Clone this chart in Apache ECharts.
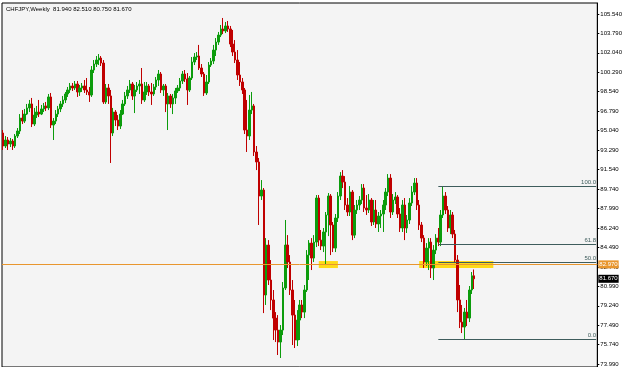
<!DOCTYPE html>
<html><head><meta charset="utf-8">
<script src="https://cdn.jsdelivr.net/npm/echarts@6/dist/echarts.min.js"></script>
<style>html,body{margin:0;padding:0;background:#ffffff}#c{width:625px;height:367px}</style>
</head><body><div id="c"></div>
<script>
// ---- data ----
const chartTitle = 'CHFJPY,Weekly  81.940 82.510 80.750 81.670';
// weekly candles: [open, close, low, high]
const candles = [
[94.81,93.64,93.28,95.08],[93.64,94.18,93.46,94.54],[94.18,93.82,93.28,94.45],[93.82,94.09,93.55,94.36],
[94.09,93.64,93.28,94.27],[93.64,94.54,93.46,94.72],[94.54,94.99,94.36,95.26],[94.99,96.16,94.72,96.52],
[96.16,95.89,95.62,96.88],[95.89,96.52,95.71,96.98],[96.52,97.07,96.43,97.43],[97.07,97.43,96.70,97.79],
[97.43,95.62,95.35,97.97],[95.62,96.43,95.44,97.07],[96.43,96.70,96.16,97.25],[96.70,96.52,96.25,97.79],
[96.52,96.98,96.43,97.34],[96.98,97.25,96.70,97.52],[97.25,97.07,96.79,97.61],[97.07,98.06,96.88,98.33],
[98.06,95.53,95.26,98.42],[95.53,95.89,94.18,96.16],[95.89,96.52,95.62,96.88],[96.52,96.98,96.25,97.25],
[96.98,97.43,96.70,97.70],[97.43,97.79,97.16,98.15],[97.79,98.33,97.52,98.51],[98.33,98.69,98.06,98.96],
[98.69,99.05,98.42,99.32],[99.05,98.87,98.60,99.32],[98.87,99.23,98.69,99.50],[99.23,98.51,98.06,99.50],
[98.51,98.87,98.15,99.14],[98.87,99.05,98.51,99.32],[99.05,98.69,98.42,99.59],[98.69,98.51,98.24,99.77],
[98.51,98.24,97.61,98.96],[98.24,100.49,98.06,100.85],[100.49,101.03,100.22,101.39],[101.03,101.39,100.76,101.75],
[101.39,101.57,100.94,101.93],[101.57,101.12,100.85,101.75],[101.12,97.61,97.43,101.39],[97.61,98.87,97.43,99.23],
[98.87,98.15,97.43,99.23],[98.15,94.81,92.11,98.69],[94.81,96.70,94.54,97.07],[96.70,95.98,95.44,96.88],
[95.98,95.44,95.08,96.43],[95.44,96.52,95.17,96.88],[96.52,97.43,96.43,97.79],[97.43,98.15,97.25,98.51],
[98.15,98.69,97.88,99.05],[98.69,99.23,98.42,99.59],[99.23,98.15,97.79,99.41],[98.15,98.69,96.61,99.14],
[98.69,99.05,98.51,99.41],[99.05,99.23,98.33,99.59],[99.23,97.79,97.43,100.67],[97.79,98.51,97.61,99.41],
[98.51,99.05,98.24,99.41],[99.05,98.51,98.15,99.23],[98.51,98.33,97.34,99.32],[98.33,98.96,98.15,99.23],
[98.96,99.59,98.69,99.86],[99.59,100.13,99.05,100.49],[100.13,98.69,98.42,100.31],[98.69,99.05,98.15,99.23],
[99.05,97.43,96.70,99.23],[97.43,98.15,95.08,98.42],[98.15,97.43,97.07,98.33],[97.43,97.97,96.52,98.33],
[97.97,98.60,97.43,98.87],[98.60,98.87,98.42,99.14],[98.87,99.50,98.60,99.77],[99.50,100.13,99.23,100.40],
[100.13,99.68,99.41,100.49],[99.68,98.69,97.34,100.22],[98.69,99.77,98.51,99.95],[99.77,101.21,99.59,101.66],
[101.21,101.66,100.94,102.02],[101.66,101.75,101.39,102.11],[101.75,100.67,100.49,102.75],[100.67,100.13,99.86,101.03],
[100.13,98.42,98.15,100.31],[98.42,99.41,98.24,100.04],[99.41,100.94,99.23,101.21],[100.94,101.30,100.76,101.57],
[101.30,102.29,101.03,102.75],[102.29,103.01,101.75,103.37],[103.01,103.64,102.75,103.92],[103.64,104.19,103.46,104.55],
[104.19,104.01,103.73,105.18],[104.01,104.46,103.82,104.82],[104.46,104.19,103.92,104.91],[104.19,102.83,102.56,104.46],
[102.83,102.11,101.75,104.10],[102.11,101.39,101.12,103.19],[101.39,100.04,99.59,102.29],[100.04,99.41,99.05,101.21],
[99.41,98.69,98.33,99.77],[98.69,95.08,94.72,98.87],[95.08,94.54,93.10,97.79],[94.54,96.88,94.18,98.24],
[96.88,97.25,96.52,98.51],[97.25,93.10,92.74,97.43],[93.10,92.20,91.47,93.64],[92.20,89.13,86.52,92.56],
[89.13,89.67,88.77,90.57],[89.67,80.21,78.58,89.85],[80.21,84.71,79.31,85.34],[84.71,81.56,81.11,85.16],
[81.56,79.76,78.85,83.36],[79.76,78.13,76.15,80.66],[78.13,77.05,75.97,78.67],[77.05,75.97,74.80,78.40],
[75.97,77.05,74.53,77.50],[77.05,80.84,76.60,81.38],[80.84,84.71,80.66,86.97],[84.71,83.18,82.64,85.61],
[83.18,80.66,80.21,83.81],[80.66,78.40,75.70,81.56],[78.40,76.15,75.43,79.76],[76.15,77.95,75.61,78.85],
[77.95,79.31,76.15,79.76],[79.31,78.67,78.13,79.76],[78.67,80.66,78.13,81.11],[80.66,83.81,80.48,84.26],
[83.81,84.89,81.56,85.16],[84.89,83.54,82.46,85.34],[83.54,84.98,83.18,85.61],[84.98,88.95,84.53,89.22],
[88.95,85.16,84.62,89.22],[85.16,84.62,84.26,86.07],[84.62,85.89,84.08,86.25],[85.89,87.42,82.91,87.69],
[87.42,89.13,85.52,89.40],[89.13,86.52,83.81,89.31],[86.52,84.44,84.08,86.79],[84.44,87.15,84.08,87.51],
[87.15,89.13,86.79,89.49],[89.13,90.93,88.77,91.29],[90.93,90.39,89.85,91.47],[90.39,88.32,87.87,90.93],
[88.32,87.69,87.33,88.95],[87.69,89.49,87.33,90.03],[89.49,85.61,85.16,89.67],[85.61,87.87,85.34,88.32],
[87.87,88.32,87.51,88.77],[88.32,88.77,87.87,89.13],[88.77,89.85,88.41,90.21],[89.85,88.05,87.69,90.21],
[88.05,87.87,87.42,89.22],[87.87,88.77,87.60,89.31],[88.77,86.79,86.43,88.95],[86.79,87.87,86.52,88.77],
[87.87,86.61,86.25,88.77],[86.61,87.33,85.89,87.69],[87.33,87.51,86.25,87.87],[87.51,88.32,85.89,88.77],
[88.32,89.49,87.87,89.85],[89.49,90.75,89.13,91.11],[90.75,87.69,87.15,91.11],[87.69,88.77,87.42,89.31],
[88.77,89.04,88.41,89.49],[89.04,87.51,87.15,89.22],[87.51,86.25,85.89,88.05],[86.25,88.32,85.89,88.77],
[88.32,86.25,85.16,88.95],[86.25,86.97,85.80,87.42],[86.97,88.50,86.61,88.95],[88.50,89.49,88.23,90.03],
[89.49,90.30,89.22,90.75],[90.30,88.32,87.87,90.75],[88.32,86.52,86.07,88.77],[86.52,85.34,84.98,86.79],
[85.34,83.18,82.64,85.61],[83.18,84.44,82.82,84.89],[84.44,84.98,82.46,85.34],[84.98,82.64,81.74,85.34],
[82.64,84.26,81.56,84.71],[84.26,85.34,83.90,85.70],[85.34,84.98,84.62,86.25],[84.98,87.42,84.62,87.87],
[87.42,89.13,87.15,90.01],[89.13,87.87,87.51,89.49],[87.87,86.25,85.89,88.23],[86.25,87.42,85.70,87.87],
[87.42,85.70,85.34,87.69],[85.70,83.36,83.09,86.07],[83.36,79.76,78.67,83.81],[79.76,77.77,77.23,81.11],
[77.77,77.32,76.78,79.31],[77.32,78.67,76.24,79.04],[78.67,78.13,77.41,79.76],[78.13,80.66,77.77,81.02],
[80.66,81.94,80.30,82.28],[81.94,81.67,80.75,82.51]
];
const emptySlots = 51; // MT4 chart shift (empty space right of last bar)
const priceTicks = [73.99,75.74,77.49,79.24,80.99,82.74,84.49,86.24,87.99,89.74,91.54,93.29,95.04,96.79,98.54,100.29,102.04,103.79,105.54];
const fibLevels = ['100.0','61.8','50.0','0.0'];
const fibPrices = [90.01,84.75,83.125,76.24];
const fibStartBar = 182;
const hLinePrice = 82.97;
const lastPrice = 81.67;
// support zones: [startBar, endBar, lowPrice, highPrice]
const zoneA = [132,140,82.64,83.27];
const zoneB = [174,205,82.64,83.27];

// ---- chart ----
const weekSlots = Array.from({length: candles.length + emptySlots}, (_, i) => 'W' + (i + 1));
const lastSlot = weekSlots.length - 1;
const yMin = 73.72, yMax = 106.53;
const FONT = 'Liberation Sans';

const chart = echarts.init(document.getElementById('c'), null, {renderer: 'canvas'});
chart.setOption({
  animation: false,
  backgroundColor: '#ffffff',
  title: {text: chartTitle, left: 6, top: 6, padding: 0,
    textStyle: {fontSize: 6, fontWeight: 'normal', color: '#000', fontFamily: FONT}},
  grid: {left: 2, right: 26, top: 3, bottom: 0, show: true, backgroundColor: '#f4f4f4', borderColor: '#000', borderWidth: 1},
  xAxis: {type: 'category', data: weekSlots, boundaryGap: true,
    axisLine: {show: false}, axisTick: {show: false}, axisLabel: {show: false}, splitLine: {show: false}},
  yAxis: {type: 'value', position: 'right', min: yMin, max: yMax, scale: true,
    axisLine: {show: true, lineStyle: {color: '#000'}},
    axisTick: {show: true, length: 2, lineStyle: {color: '#000'}, customValues: priceTicks},
    axisLabel: {show: true, margin: 3, fontSize: 6, color: '#000', fontFamily: FONT,
      customValues: priceTicks, formatter: v => v.toFixed(3)},
    splitLine: {show: false}},
  series: [{
    type: 'candlestick',
    data: candles,
    barWidth: 2,
    itemStyle: {color: '#0c9c0c', color0: '#c00000', borderColor: '#0c9c0c', borderColor0: '#c00000', borderWidth: 1},
    markArea: {silent: true, itemStyle: {color: '#ffd700', opacity: 0.9},
      data: [
        [{xAxis: zoneA[0], yAxis: zoneA[2]}, {xAxis: zoneA[1], yAxis: zoneA[3]}],
        [{xAxis: zoneB[0], yAxis: zoneB[2]}, {xAxis: zoneB[1], yAxis: zoneB[3]}]
      ]},
    markLine: {silent: true, symbol: 'none', animation: false,
      data: [
        ...fibPrices.map((p, k) => [
          {xAxis: fibStartBar, yAxis: p, lineStyle: {color: '#3e5c5c', width: 1, type: 'solid'},
           label: {show: true, position: 'insideEndTop', formatter: fibLevels[k], fontSize: 6, color: '#3e5c5c', fontFamily: FONT, distance: [0, 1]}},
          {xAxis: lastSlot, yAxis: p}
        ]),
        {yAxis: hLinePrice, lineStyle: {color: '#e8962e', width: 1, type: 'solid'},
         label: {show: true, position: 'end', formatter: hLinePrice.toFixed(3), fontSize: 6, color: '#ffffff',
           backgroundColor: '#e8962e', padding: [1, 1], distance: 1, fontFamily: FONT}},
        {yAxis: lastPrice, lineStyle: {color: 'rgba(0,0,0,0)', width: 1},
         label: {show: true, position: 'end', formatter: lastPrice.toFixed(3), fontSize: 6, color: '#ffffff',
           backgroundColor: '#000000', padding: [1, 1], distance: 1, fontFamily: FONT}}
      ]}
  }]
});
</script></body></html>
